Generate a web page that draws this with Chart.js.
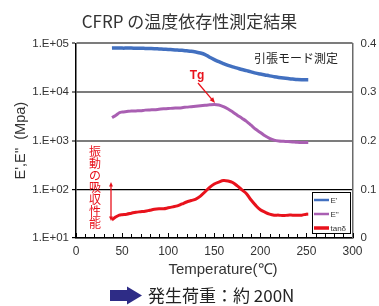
<!DOCTYPE html>
<html>
<head>
<meta charset="utf-8">
<script src="https://cdn.jsdelivr.net/npm/chart.js@4"></script>
<style>
  html, body { margin: 0; padding: 0; background: #fff; }
  #wrap { width: 379px; height: 306px; }
</style>
</head>
<body>
<div id="wrap"><canvas id="dmaChart" width="379" height="306"></canvas></div>
<script>
// Temperature (℃)
const temps = [39, 43, 47, 50, 55, 60, 65, 70, 75, 80, 85, 90, 95, 100, 105, 110, 115, 120, 125, 130,
  135, 140, 145, 150, 155, 160, 165, 170, 175, 180, 185, 190, 195, 200, 205, 210, 215, 220, 225, 230,
  235, 240, 245, 250, 252];

// E' storage modulus (MPa)
const storageModulus = [80000, 80500, 80500, 80000, 80000, 80000, 79500, 79500, 79000, 78500, 78000, 77000, 76000, 75000, 74000, 73000, 72000, 70500, 69000, 66500,
  63500, 59000, 52000, 46500, 42000, 38500, 35500, 33000, 31000, 29000, 27500, 26000, 24500, 23500, 22500, 21500, 20700, 20000, 19400, 18900,
  18500, 18100, 17900, 17800, 17800];

// E'' loss modulus (MPa)
const lossModulus = [3000, 3300, 3750, 3880, 3980, 4080, 4100, 4120, 4250, 4300, 4330, 4420, 4520, 4580, 4660, 4710, 4780, 4900, 5000, 5110,
  5220, 5340, 5460, 5540, 5440, 5020, 4480, 3900, 3350, 2900, 2500, 2080, 1720, 1480, 1260, 1120, 1030, 990, 975, 960,
  945, 930, 920, 915, 915];

// tanδ
const tanDelta = [0.037, 0.043, 0.047, 0.048, 0.049, 0.051, 0.053, 0.054, 0.055, 0.057, 0.059, 0.060, 0.060, 0.062, 0.064, 0.066, 0.070, 0.074, 0.077, 0.080,
  0.086, 0.095, 0.104, 0.111, 0.115, 0.118, 0.117, 0.114, 0.107, 0.099, 0.091, 0.078, 0.067, 0.058, 0.053, 0.049, 0.047, 0.047, 0.046, 0.047,
  0.047, 0.047, 0.047, 0.049, 0.049];

const xTicks = [0, 50, 100, 150, 200, 250, 300];
const leftTicks = [10, 100, 1000, 10000, 100000];
const rightTicks = [0, 0.1, 0.2, 0.3, 0.4];

const seriesLabels = ["E'", "E''", "tanδ"];
const seriesColors = ["#4270c0", "#a95fb2", "#e8121c"];

const JP_FONT = "'Noto Sans CJK JP', 'Noto Sans', sans-serif";
const LATIN_FONT = "'Liberation Sans', Arial, sans-serif";
Chart.defaults.font.family = LATIN_FONT;
Chart.defaults.color = "#333";

function toPoints(values) {
    return temps.map((t, i) => ({ x: t, y: values[i] }));
}

function drawArrow(ctx, x1, y1, x2, y2, head, color, width) {
    const ang = Math.atan2(y2 - y1, x2 - x1);
    ctx.strokeStyle = color;
    ctx.fillStyle = color;
    ctx.lineWidth = width;
    ctx.beginPath();
    ctx.moveTo(x1, y1);
    ctx.lineTo(x2 - Math.cos(ang) * head * 0.8, y2 - Math.sin(ang) * head * 0.8);
    ctx.stroke();
    ctx.beginPath();
    ctx.moveTo(x2, y2);
    ctx.lineTo(x2 - head * Math.cos(ang - 0.4), y2 - head * Math.sin(ang - 0.4));
    ctx.lineTo(x2 - head * Math.cos(ang + 0.4), y2 - head * Math.sin(ang + 0.4));
    ctx.closePath();
    ctx.fill();
}

// extra drawing: minor ticks, notes, legend, bottom caption
const decorations = {
    id: "decorations",
    afterDraw(chart) {
        const { ctx, chartArea: area, scales } = chart;
        ctx.save();

        // minor ticks on the x axis, pointing inward
        ctx.strokeStyle = "#000";
        ctx.lineWidth = 1;
        for (let v = 0; v <= 300; v += 10) {
            const px = Math.round(scales.x.getPixelForValue(v)) + 0.5;
            ctx.beginPath();
            ctx.moveTo(px, area.bottom);
            ctx.lineTo(px, area.bottom - (v % 50 === 0 ? 5 : 4));
            ctx.stroke();
        }

        // x axis title (sits a little right of centre in the original)
        ctx.fillStyle = "#333";
        ctx.font = "15px " + LATIN_FONT;
        ctx.textAlign = "center";
        ctx.textBaseline = "middle";
        ctx.fillText("Temperature(℃)", 223, 270);

        // measuring mode note
        ctx.fillStyle = "#222";
        ctx.font = "12px " + JP_FONT;
        ctx.fillText("引張モード測定", 296, 58);

        // Tg label + arrow
        ctx.fillStyle = "#e8121c";
        ctx.font = "bold 12px " + LATIN_FONT;
        ctx.fillText("Tg", 197, 76);
        drawArrow(ctx, 198, 83, 215, 103, 6, "#e8121c", 1.3);

        // vertical note
        ctx.font = "12px " + JP_FONT;
        const note = "振動の吸収性能";
        for (let i = 0; i < note.length; i++) {
            ctx.fillText(note[i], 95, 151 + i * 12);
        }

        // double-headed arrow
        drawArrow(ctx, 111, 201, 111, 182, 5, "#e8121c", 1.3);
        drawArrow(ctx, 111, 201, 111, 221, 5, "#e8121c", 1.3);

        // legend
        ctx.fillStyle = "#fff";
        ctx.fillRect(312, 192, 38, 42);
        ctx.strokeStyle = "#000";
        ctx.lineWidth = 1;
        ctx.strokeRect(312.5, 192.5, 38, 41);
        const rows = [200, 214, 228];
        chart.data.datasets.forEach((ds, i) => {
            ctx.strokeStyle = ds.borderColor;
            ctx.lineWidth = i === 2 ? 3.5 : 2.5;
            ctx.beginPath();
            ctx.moveTo(314, rows[i]);
            ctx.lineTo(329, rows[i]);
            ctx.stroke();
            ctx.fillStyle = "#333";
            ctx.font = "8px " + LATIN_FONT;
            ctx.textAlign = "left";
            ctx.fillText(ds.label, 330.5, rows[i] + 0.5);
        });

        // bottom caption with block arrow
        ctx.fillStyle = "#2e2c86";
        ctx.beginPath();
        ctx.moveTo(110, 290);
        ctx.lineTo(127, 290);
        ctx.lineTo(127, 286.5);
        ctx.lineTo(142, 295.5);
        ctx.lineTo(127, 304.5);
        ctx.lineTo(127, 301);
        ctx.lineTo(110, 301);
        ctx.closePath();
        ctx.fill();
        ctx.fillStyle = "#222";
        ctx.font = "17px " + JP_FONT;
        ctx.textAlign = "left";
        ctx.fillText("発生荷重：約 200N", 148, 296);

        ctx.restore();
    }
};

new Chart(document.getElementById("dmaChart"), {
    type: "line",
    data: {
        datasets: [
            {
                label: seriesLabels[0],
                data: toPoints(storageModulus),
                borderColor: seriesColors[0],
                borderWidth: 3.5,
                yAxisID: "y"
            },
            {
                label: seriesLabels[1],
                data: toPoints(lossModulus),
                borderColor: seriesColors[1],
                borderWidth: 3,
                yAxisID: "y"
            },
            {
                label: seriesLabels[2],
                data: toPoints(tanDelta),
                borderColor: seriesColors[2],
                borderWidth: 3,
                yAxisID: "y1"
            }
        ]
    },
    options: {
        responsive: false,
        animation: false,
        layout: { padding: { top: 0, left: 0, right: 0, bottom: 26 } },
        elements: {
            point: { radius: 0 },
            line: { tension: 0.35, fill: false }
        },
        plugins: {
            legend: { display: false },
            tooltip: { enabled: false },
            title: {
                display: true,
                text: "CFRP の温度依存性測定結果",
                color: "#333",
                font: { family: JP_FONT, size: 17, weight: "normal" },
                padding: { top: 11, bottom: 12 }
            }
        },
        scales: {
            x: {
                type: "linear",
                min: 0,
                max: 300,
                afterBuildTicks: scale => { scale.ticks = xTicks.map(v => ({ value: v })); },
                afterFit: scale => { scale.height = 42; },
                grid: { display: false, drawTicks: false },
                border: { display: true, color: "#000", width: 1.5 },
                ticks: { font: { size: 12 }, color: "#333", padding: 6, maxRotation: 0 }
            },
            y: {
                type: "logarithmic",
                position: "left",
                min: 10,
                max: 100000,
                afterBuildTicks: scale => { scale.ticks = leftTicks.map(v => ({ value: v })); },
                afterFit: scale => { scale.width = 76; },
                grid: {
                    color: c => (c.tick && c.tick.value <= 100 ? "#000" : "#7c7c7c"),
                    lineWidth: c => (c.tick && c.tick.value <= 100 ? 1.2 : 2),
                    tickLength: 4
                },
                border: { display: true, color: "#000", width: 1.5 },
                ticks: {
                    font: { size: 11.5 },
                    color: "#333",
                    padding: 3,
                    callback: v => "1.E+" + String(Math.round(Math.log10(v))).padStart(2, "0")
                },
                title: {
                    display: true,
                    text: "E',E''  (Mpa)",
                    color: "#333",
                    font: { size: 14.5 },
                    padding: { top: 12, bottom: 0 }
                }
            },
            y1: {
                type: "linear",
                position: "right",
                min: 0,
                max: 0.4,
                afterBuildTicks: scale => { scale.ticks = rightTicks.map(v => ({ value: v })); },
                afterFit: scale => { scale.width = 26.5; },
                grid: { drawOnChartArea: false, drawTicks: false },
                border: { display: true, color: "#6a6a6a", width: 1.5 },
                ticks: {
                    font: { size: 11.5 },
                    color: "#333",
                    padding: 8,
                    callback: v => String(v)
                }
            }
        }
    },
    plugins: [decorations]
});
</script>
</body>
</html>
